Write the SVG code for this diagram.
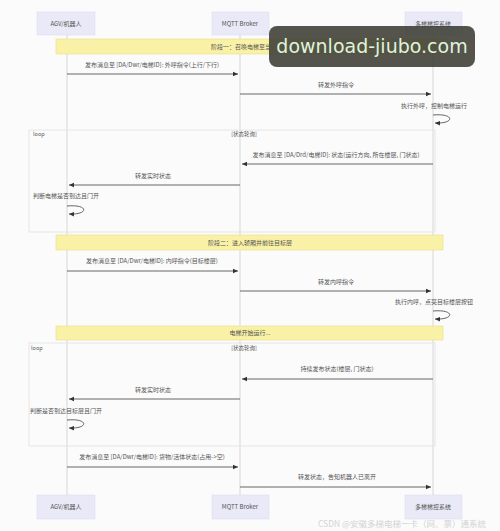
<svg xmlns="http://www.w3.org/2000/svg" width="500" height="531" viewBox="0 0 500 531">
<defs>
<style>
text{font-family:"Noto Sans CJK SC","Noto Sans",sans-serif;fill:#555;font-size:6px}
.actor{fill:#e9e9f7;stroke:#dedef0;stroke-width:0.6}
.life{stroke:#cfcfcf;stroke-width:0.8}
.note{fill:#f9f1a5;stroke:#e6dc8a;stroke-width:0.6}
.msg{stroke:#555;stroke-width:0.9;fill:none}
.loop{fill:none;stroke:#e2e2e2;stroke-width:0.8}
.c{text-anchor:middle}
</style>
<marker id="ah" markerWidth="6" markerHeight="6" refX="5" refY="3" orient="auto" markerUnits="userSpaceOnUse">
<path d="M0,0.8 L5,3 L0,5.2 Z" fill="#333"/>
</marker>
<clipPath id="noteclip"><rect x="56" y="39" width="213" height="15"/></clipPath>
</defs>
<rect width="500" height="531" fill="#fbfbfb"/>
<g id="lifelines">
<line class="life" x1="67" y1="35" x2="67" y2="495"/>
<line class="life" x1="240" y1="35" x2="240" y2="495"/>
<line class="life" x1="433" y1="35" x2="433" y2="495"/>
</g>
<g id="loop1">
<rect class="loop" x="29" y="130" width="406" height="102"/>
<text x="33" y="136" style="font-size:5.5px">loop</text>
<text class="c" x="244" y="136" style="font-size:5.5px">[状态轮询]</text>
</g>
<g id="loop2">
<rect class="loop" x="29" y="343" width="406" height="103"/>
<text x="31" y="350" style="font-size:5.5px">loop</text>
<text class="c" x="244" y="350" style="font-size:5.5px">[状态轮询]</text>
</g>
<g id="actor-agv"><rect class="actor" x="37" y="12" width="58" height="23"/><text class="c" x="66" y="25.5">AGV/机器人</text></g>
<g id="actor-mqtt"><rect class="actor" x="212" y="12" width="57" height="23"/><text class="c" x="240" y="25.5">MQTT Broker</text></g>
<g id="actor-elev"><rect class="actor" x="405" y="12" width="57" height="23"/><text class="c" x="433" y="25.5">多梯梯控系统</text></g>
<g id="note1"><rect class="note" x="56" y="39" width="387" height="15"/><text class="c" x="250" y="48.5" clip-path="url(#noteclip)">阶段一：召唤电梯至当前楼层</text></g>
<g id="note2"><rect class="note" x="56" y="235" width="387" height="15"/><text class="c" x="250" y="244.5">阶段二：进入轿厢并前往目标层</text></g>
<g id="note3"><rect class="note" x="56" y="326" width="387" height="14"/><text class="c" x="250" y="335">电梯开始运行...</text></g>
<g id="connectors">
<text class="c" x="152" y="67">发布消息至 [DA/Dwr/电梯ID]: 外呼指令(上行/下行)</text>
<line class="msg" x1="67" y1="74" x2="238" y2="74" marker-end="url(#ah)"/>
<text class="c" x="336" y="87">转发外呼指令</text>
<line class="msg" x1="240" y1="94" x2="431" y2="94" marker-end="url(#ah)"/>
<text class="c" x="434" y="108">执行外呼，控制电梯运行</text>
<path class="msg" d="M433,115 C455,113 455,124 435,123" marker-end="url(#ah)"/>
<text class="c" x="336" y="157">发布消息至 [DA/Drd/电梯ID]: 状态(运行方向, 所在楼层, 门状态)</text>
<line class="msg" x1="433" y1="164" x2="242" y2="164" marker-end="url(#ah)"/>
<text class="c" x="153" y="178">转发实时状态</text>
<line class="msg" x1="240" y1="185" x2="69" y2="185" marker-end="url(#ah)"/>
<text x="33" y="198">判断电梯是否到达且门开</text>
<path class="msg" d="M67,206 C89,204 89,215 69,214" marker-end="url(#ah)"/>
<text class="c" x="152" y="263">发布消息至 [DA/Dwr/电梯ID]: 内呼指令(目标楼层)</text>
<line class="msg" x1="67" y1="271" x2="238" y2="271" marker-end="url(#ah)"/>
<text class="c" x="336" y="284">转发内呼指令</text>
<line class="msg" x1="240" y1="291" x2="431" y2="291" marker-end="url(#ah)"/>
<text class="c" x="434" y="304">执行内呼，点亮目标楼层按钮</text>
<path class="msg" d="M433,311 C455,309 455,320 435,319" marker-end="url(#ah)"/>
<text class="c" x="337" y="371">持续发布状态(楼层, 门状态)</text>
<line class="msg" x1="433" y1="379" x2="242" y2="379" marker-end="url(#ah)"/>
<text class="c" x="153" y="392">转发实时状态</text>
<line class="msg" x1="240" y1="399" x2="69" y2="399" marker-end="url(#ah)"/>
<text x="30" y="413">判断是否到达目标层且门开</text>
<path class="msg" d="M67,420 C89,418 89,429 69,428" marker-end="url(#ah)"/>
<text class="c" x="152" y="459">发布消息至 [DA/Dwr/电梯ID]: 货物/活体状态(占用->空)</text>
<line class="msg" x1="67" y1="467" x2="238" y2="467" marker-end="url(#ah)"/>
<text class="c" x="337" y="479">转发状态，告知机器人已离开</text>
<line class="msg" x1="240" y1="487" x2="431" y2="487" marker-end="url(#ah)"/>
</g>
<g id="actor-agv-bottom"><rect class="actor" x="37" y="495" width="58" height="24"/><text class="c" x="66" y="509">AGV/机器人</text></g>
<g id="actor-mqtt-bottom"><rect class="actor" x="212" y="495" width="57" height="24"/><text class="c" x="240" y="509">MQTT Broker</text></g>
<g id="actor-elev-bottom"><rect class="actor" x="405" y="495" width="57" height="24"/><text class="c" x="433" y="509">多梯梯控系统</text></g>
<g id="watermark">
<rect x="269" y="26" width="206" height="41" rx="8" fill="#3c3c34" fill-opacity="0.88"/>
<text x="372" y="53" class="c" style="font-family:'DejaVu Sans',sans-serif;font-size:19px;fill:#dff3df">download-jiubo.com</text>
<text x="402" y="527" class="c" style="font-size:8.5px;fill:#d4d4d4">CSDN @安徽多梯电梯一卡（网、票）通系统</text>
</g>
</svg>
